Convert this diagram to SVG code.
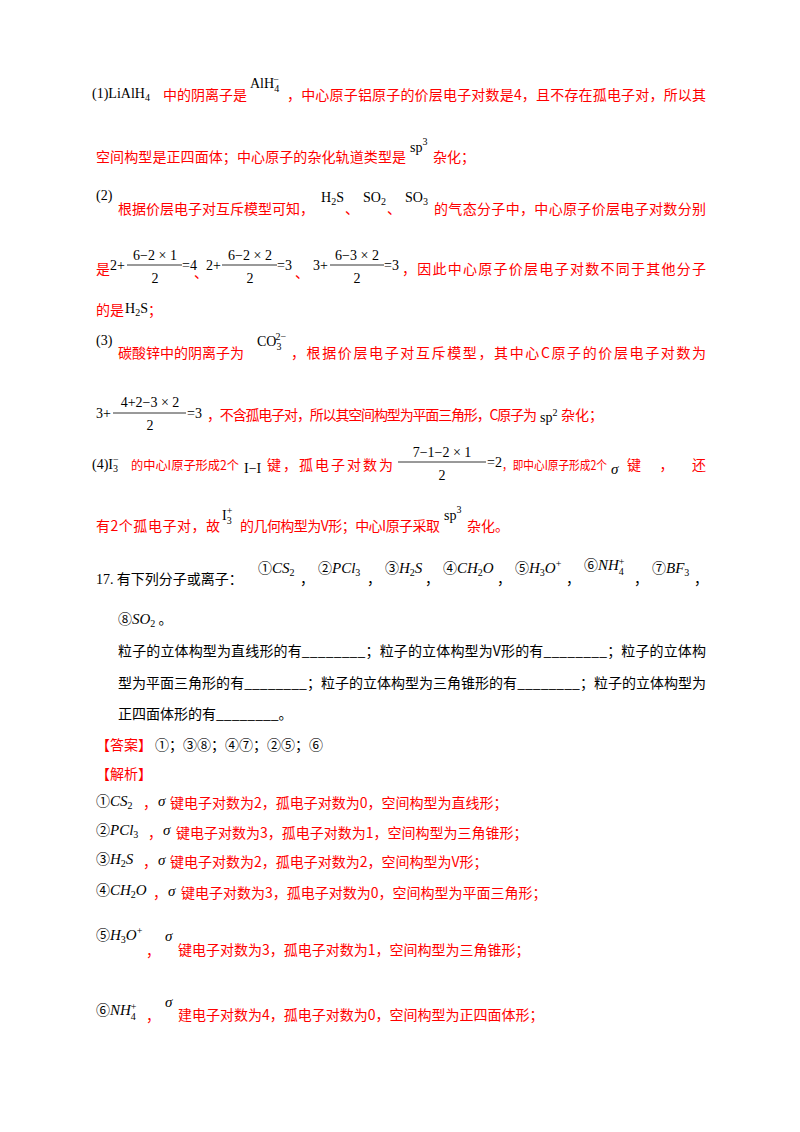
<svg xmlns="http://www.w3.org/2000/svg" width="800" height="1132" viewBox="0 0 800 1132">
<style>
text{font-family:"Liberation Serif","Noto Sans CJK SC",serif;font-size:14px;fill:#000}
.r{fill:#ff0000;font-family:"Noto Sans CJK SC",sans-serif}
.k{font-family:"Noto Sans CJK SC",sans-serif}
.m{font-family:"Liberation Serif",serif;font-size:14px}
.i{font-family:"Liberation Serif",serif;font-style:italic;font-size:15px}
.s{font-size:10px}
.n{font-size:12.5px}
line{stroke:#000;stroke-width:0.8}
</style>
<rect width="800" height="1132" fill="#fff"/>
<!-- (1) -->
<text class="m" x="92" y="98">(1)LiAlH<tspan class="s" dy="3">4</tspan></text>
<text class="r" x="163" y="100">中的阴离子是</text>
<text class="m" x="250" y="88">AlH<tspan class="s" dy="4">4</tspan><tspan class="s" dx="-6" dy="-9">−</tspan></text>
<text class="r" x="287" y="100" textLength="419" lengthAdjust="spacing">，中心原子铝原子的价层电子对数是4，且不存在孤电子对，所以其</text>
<text class="r" x="96" y="162" textLength="310" lengthAdjust="spacing">空间构型是正四面体；中心原子的杂化轨道类型是</text>
<text class="m" x="410" y="152">sp<tspan class="s" dy="-7">3</tspan></text>
<text class="r" x="433" y="162">杂化；</text>
<!-- (2) -->
<text class="m" x="96" y="200">(2)</text>
<text class="r" x="118" y="214">根据价层电子对互斥模型可知，</text>
<text class="m" x="321" y="202">H<tspan class="s" dy="3">2</tspan><tspan dy="-3">S</tspan></text>
<text class="r" x="345" y="214">、</text>
<text class="m" x="363" y="202">SO<tspan class="s" dy="3">2</tspan></text>
<text class="r" x="387" y="214">、</text>
<text class="m" x="405" y="202">SO<tspan class="s" dy="3">3</tspan></text>
<text class="r" x="434" y="214" textLength="272" lengthAdjust="spacing">的气态分子中，中心原子价层电子对数分别</text>
<text class="r" x="96" y="274">是</text>
<text class="m" x="110" y="270">2+</text>
<line x1="127" y1="265" x2="182" y2="265"/>
<text class="m" x="155" y="260" text-anchor="middle">6−2 × 1</text>
<text class="m" x="155" y="283" text-anchor="middle">2</text>
<text class="m" x="182" y="270">=4</text>
<text class="r" x="194" y="278" font-size="12">、</text>
<text class="m" x="206" y="270">2+</text>
<line x1="222" y1="265" x2="277" y2="265"/>
<text class="m" x="250" y="260" text-anchor="middle">6−2 × 2</text>
<text class="m" x="250" y="283" text-anchor="middle">2</text>
<text class="m" x="277" y="270">=3</text>
<text class="r" x="295" y="278" font-size="12">、</text>
<text class="m" x="313" y="270">3+</text>
<line x1="330" y1="265" x2="384" y2="265"/>
<text class="m" x="357" y="260" text-anchor="middle">6−3 × 2</text>
<text class="m" x="357" y="283" text-anchor="middle">2</text>
<text class="m" x="384" y="270">=3</text>
<text class="r" x="402" y="274" textLength="304" lengthAdjust="spacing">，因此中心原子价层电子对数不同于其他分子</text>
<text class="r" x="96" y="315">的是</text>
<text class="m" x="125" y="313">H<tspan class="s" dy="3">2</tspan><tspan dy="-3">S</tspan></text>
<text class="r" x="148" y="315">；</text>
<!-- (3) -->
<text class="m" x="96" y="345">(3)</text>
<text class="r" x="118" y="358">碳酸锌中的阴离子为</text>
<text class="m" x="257" y="346">CO<tspan class="s" dy="4">3</tspan><tspan class="s" dx="-6" dy="-10">2−</tspan></text>
<text class="r" x="291" y="358" textLength="415" lengthAdjust="spacing">，根据价层电子对互斥模型，其中心C原子的价层电子对数为</text>
<text class="m" x="96" y="418">3+</text>
<line x1="113" y1="413" x2="186" y2="413"/>
<text class="m" x="150" y="407" text-anchor="middle">4+2−3 × 2</text>
<text class="m" x="150" y="430" text-anchor="middle">2</text>
<text class="m" x="187" y="418">=3</text>
<text class="r" x="207" y="420" textLength="330" lengthAdjust="spacing">，不含孤电子对，所以其空间构型为平面三角形，C原子为</text>
<text class="m" x="540" y="422">sp<tspan class="s" dy="-6">2</tspan></text>
<text class="r" x="561" y="420">杂化；</text>
<!-- (4) -->
<text class="m" x="92" y="469">(4)I<tspan class="s" dy="3">3</tspan><tspan class="s" dx="-5" dy="-9">−</tspan></text>
<text class="r n" x="131" y="470" textLength="108" lengthAdjust="spacingAndGlyphs">的中心I原子形成2个</text>
<text class="m" x="244" y="473">I−I</text>
<text class="r" x="267" y="470" textLength="126" lengthAdjust="spacing">键，孤电子对数为</text>
<line x1="398" y1="462" x2="486" y2="462"/>
<text class="m" x="442" y="457" text-anchor="middle">7−1−2 × 1</text>
<text class="m" x="442" y="480" text-anchor="middle">2</text>
<text class="m" x="487" y="467">=2</text>
<text class="r n" x="502" y="470" textLength="105" lengthAdjust="spacingAndGlyphs">，即中心I原子形成2个</text>
<text class="i" x="611" y="474">σ</text>
<text class="r" x="627" y="470" textLength="79" lengthAdjust="spacing">键，还</text>
<text class="r" x="96" y="531" textLength="124" lengthAdjust="spacing">有2个孤电子对，故</text>
<text class="m" x="222" y="520">I<tspan class="s" dy="4">3</tspan><tspan class="s" dx="-5" dy="-10">+</tspan></text>
<text class="r" x="240" y="531" textLength="200" lengthAdjust="spacing">的几何构型为V形；中心I原子采取</text>
<text class="m" x="444" y="520">sp<tspan class="s" dy="-7">3</tspan></text>
<text class="r" x="467" y="531">杂化。</text>
<!-- 17 -->
<text class="k" x="96" y="584"><tspan class="m" font-size="15">17.</tspan> 有下列分子或离子：</text>
<text x="258" y="573"><tspan class="k">①</tspan><tspan class="i">CS</tspan><tspan class="s" dy="3">2</tspan></text>
<text class="k" x="300" y="584">，</text>
<text x="318" y="573"><tspan class="k">②</tspan><tspan class="i">PCl</tspan><tspan class="s" dy="3">3</tspan></text>
<text class="k" x="367" y="584">，</text>
<text x="385" y="573"><tspan class="k">③</tspan><tspan class="i">H</tspan><tspan class="s" dy="3">2</tspan><tspan class="i" dy="-3">S</tspan></text>
<text class="k" x="425" y="584">，</text>
<text x="443" y="573"><tspan class="k">④</tspan><tspan class="i">CH</tspan><tspan class="s" dy="3">2</tspan><tspan class="i" dy="-3">O</tspan></text>
<text class="k" x="497" y="584">，</text>
<text x="515" y="573"><tspan class="k">⑤</tspan><tspan class="i">H</tspan><tspan class="s" dy="3">3</tspan><tspan class="i" dy="-3">O</tspan><tspan class="s" dy="-6">+</tspan></text>
<text class="k" x="566" y="584">，</text>
<text x="584" y="570"><tspan class="k">⑥</tspan><tspan class="i">NH</tspan><tspan class="s" dy="5">4</tspan><tspan class="s" dx="-5" dy="-10">+</tspan></text>
<text class="k" x="634" y="584">，</text>
<text x="652" y="573"><tspan class="k">⑦</tspan><tspan class="i">BF</tspan><tspan class="s" dy="3">3</tspan></text>
<text class="k" x="694" y="584">，</text>
<text x="118" y="624"><tspan class="k">⑧</tspan><tspan class="i">SO</tspan><tspan class="s" dy="3">2</tspan><tspan class="k" dy="-3"> 。</tspan></text>
<text class="k" x="118" y="656" textLength="588" lengthAdjust="spacing">粒子的立体构型为直线形的有________；粒子的立体构型为V形的有________；粒子的立体构</text>
<text class="k" x="118" y="688" textLength="588" lengthAdjust="spacing">型为平面三角形的有________；粒子的立体构型为三角锥形的有________；粒子的立体构型为</text>
<text class="k" x="118" y="719">正四面体形的有________。</text>
<text class="r" x="96" y="750">【答案】</text>
<text class="k" x="155" y="750">①；③⑧；④⑦；②⑤；⑥</text>
<text class="r" x="96" y="779">【解析】</text>
<!-- analysis -->
<text x="96" y="806"><tspan class="k">①</tspan><tspan class="i">CS</tspan><tspan class="s" dy="3">2</tspan></text>
<text class="r" x="143" y="808">，</text><text class="i" x="158" y="806">σ</text>
<text class="r" x="170" y="808">键电子对数为2，孤电子对数为0，空间构型为直线形；</text>
<text x="96" y="835"><tspan class="k">②</tspan><tspan class="i">PCl</tspan><tspan class="s" dy="3">3</tspan></text>
<text class="r" x="148" y="838">，</text><text class="i" x="163" y="835">σ</text>
<text class="r" x="176" y="838">键电子对数为3，孤电子对数为1，空间构型为三角锥形；</text>
<text x="96" y="864"><tspan class="k">③</tspan><tspan class="i">H</tspan><tspan class="s" dy="3">2</tspan><tspan class="i" dy="-3">S</tspan></text>
<text class="r" x="143" y="867">，</text><text class="i" x="158" y="865">σ</text>
<text class="r" x="170" y="867">键电子对数为2，孤电子对数为2，空间构型为V形；</text>
<text x="96" y="895"><tspan class="k">④</tspan><tspan class="i">CH</tspan><tspan class="s" dy="3">2</tspan><tspan class="i" dy="-3">O</tspan></text>
<text class="r" x="153" y="898">，</text><text class="i" x="168" y="896">σ</text>
<text class="r" x="181" y="898">键电子对数为3，孤电子对数为0，空间构型为平面三角形；</text>
<text x="96" y="940"><tspan class="k">⑤</tspan><tspan class="i">H</tspan><tspan class="s" dy="3">3</tspan><tspan class="i" dy="-3">O</tspan><tspan class="s" dy="-6">+</tspan></text>
<text class="r" x="146" y="956">，</text><text class="i" x="165" y="941">σ</text>
<text class="r" x="178" y="955">键电子对数为3，孤电子对数为1，空间构型为三角锥形；</text>
<text x="96" y="1015"><tspan class="k">⑥</tspan><tspan class="i">NH</tspan><tspan class="s" dy="5">4</tspan><tspan class="s" dx="-5" dy="-10">+</tspan></text>
<text class="r" x="146" y="1021">，</text><text class="i" x="165" y="1007">σ</text>
<text class="r" x="178" y="1020">建电子对数为4，孤电子对数为0，空间构型为正四面体形；</text>
</svg>
